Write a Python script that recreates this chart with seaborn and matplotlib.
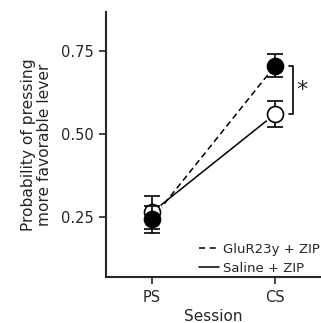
import matplotlib
matplotlib.use("Agg")
import matplotlib.pyplot as plt
import seaborn as sns
import pandas as pd

sessions = ["PS", "CS"]
groups = ["GluR23y + ZIP", "Saline + ZIP"]
glur_mean = [0.244, 0.705]
glur_err = [0.040, 0.035]
saline_mean = [0.265, 0.560]
saline_err = [0.050, 0.040]

df = pd.DataFrame({
    "Session": sessions * 2,
    "group": [groups[0]] * 2 + [groups[1]] * 2,
    "mean": glur_mean + saline_mean,
    "err": glur_err + saline_err,
})

sns.set_style("ticks")
plt.rcParams["font.family"] = ["DejaVu Sans"]

fig = plt.figure(figsize=(3.21, 3.23), dpi=100)
ax = fig.add_axes([0.330, 0.142, 0.670, 0.821])

sns.lineplot(data=df, x="Session", y="mean", style="group",
             dashes={groups[0]: (4, 2.5), groups[1]: ""},
             color="black", lw=1.1, ax=ax, legend=False, zorder=1)

# white halo so lines stop short of the markers
ax.plot([0, 1], glur_mean, "o", ms=14.5, color="white", zorder=2)
ax.plot([0, 1], saline_mean, "o", ms=14.5, color="white", zorder=2)

# error bars and markers on top
for g, face, z in [(groups[1], "white", 3), (groups[0], "black", 4)]:
    sub = df[df["group"] == g]
    ax.errorbar([0, 1], sub["mean"], yerr=sub["err"], fmt="o", ms=11.5,
                mfc=face, mec="black", mew=1.2, ecolor="black", elinewidth=1.2,
                capsize=5.5, capthick=1.2, zorder=z)

# significance bracket
ax.plot([1.11, 1.15, 1.15, 1.11], [0.705, 0.705, 0.560, 0.560], color="black", lw=1.2,
        clip_on=False)
ax.text(1.17, 0.632, "*", fontsize=16, ha="left", va="center")

ax.set_xlim(-0.374, 1.374)
ax.set_ylim(0.07, 0.867)
ax.set_yticks([0.25, 0.50, 0.75])
ax.set_yticklabels(["0.25", "0.50", "0.75"])
ax.set_xticks([0, 1])
ax.set_xticklabels(sessions)
ax.set_xlabel("Session", fontsize=11, labelpad=3)
ax.set_ylabel("Probability of pressing\nmore favorable lever", fontsize=11.2,
              labelpad=7, linespacing=1.05)
ax.tick_params(labelsize=10.5, width=1.2, length=5)
ax.tick_params(axis="x", pad=4.5)
for s in ["left", "bottom"]:
    ax.spines[s].set_linewidth(1.5)
sns.despine(ax=ax)

h1, = ax.plot([], [], color="black", lw=1.1, ls=(0, (4, 3)))
h2, = ax.plot([], [], color="black", lw=1.1)
ax.legend([h1, h2], groups, loc="lower right", bbox_to_anchor=(1.05, -0.035),
          frameon=False, fontsize=9.5, handlelength=1.55, handletextpad=0.3,
          labelspacing=0.45)

fig.savefig("out.png", dpi=100)
